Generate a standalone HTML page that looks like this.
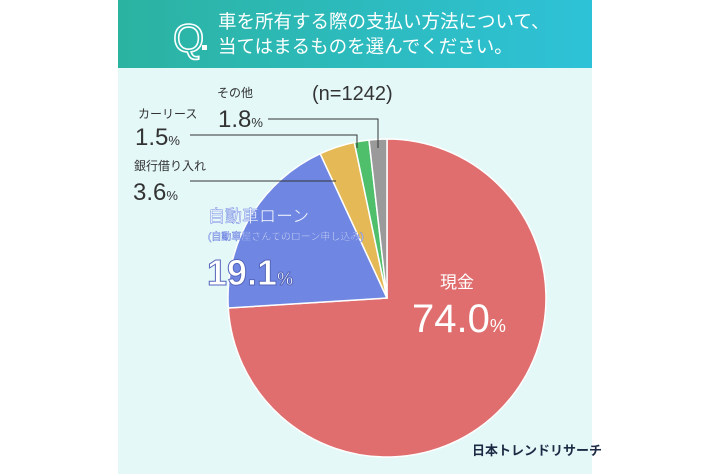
<!DOCTYPE html>
<html><head><meta charset="utf-8"><style>
body{margin:0;width:710px;height:474px;background:#fff;overflow:hidden;font-family:"Liberation Sans","Noto Sans CJK JP",sans-serif}
</style></head><body>
<svg width="710" height="474" viewBox="0 0 710 474" xmlns="http://www.w3.org/2000/svg" style="display:block">
<defs><linearGradient id="g" x1="0" x2="1"><stop offset="0" stop-color="#2bb3a1"/><stop offset="1" stop-color="#2ec2d8"/></linearGradient></defs>
<rect x="118" y="0" width="474" height="474" fill="#e4f8f8"/>
<rect x="118" y="0" width="474" height="68" fill="url(#g)"/>
<text x="173" y="52" font-size="40" fill="none" stroke="#fff" stroke-width="1.6" font-family="Liberation Sans,sans-serif">Q</text>
<rect x="202" y="45" width="5" height="5" fill="#fff"/>
<text x="218" y="28" font-size="18.5" fill="#fff" font-family="Liberation Sans,Noto Sans CJK JP,sans-serif">車を所有する際の支払い方法について、</text>
<text x="218" y="53" font-size="18.5" fill="#fff" font-family="Liberation Sans,Noto Sans CJK JP,sans-serif">当てはまるものを選んでください。</text>
<g stroke="#fff" stroke-width="1.5">
<path d="M387,298 L387,139 A159,159 0 1 1 228.3,308 Z" fill="#e06e6e"/>
<path d="M387,298 L228.3,308 A159,159 0 0 1 320.2,153.7 Z" fill="#6f87e2"/>
<path d="M387,298 L320.2,153.7 A159,159 0 0 1 354.3,142.4 Z" fill="#e5b955"/>
<path d="M387,298 L354.3,142.4 A159,159 0 0 1 369,140 Z" fill="#4fbf6b"/>
<path d="M387,298 L369,140 A159,159 0 0 1 387,139 Z" fill="#9a9a9a"/>
</g>
<g stroke="#333" stroke-width="1" fill="none">
<polyline points="268,119 378,119 378,148"/>
<polyline points="190,135 357,135 357,148"/>
<line x1="190" y1="181" x2="336" y2="181"/>
</g>
<g font-family="Liberation Sans,Noto Sans CJK JP,sans-serif" fill="#333">
<text x="217" y="97" font-size="12">その他</text>
<text x="312" y="100" font-size="20">(n=1242)</text>
<text x="138" y="118" font-size="12">カーリース</text>
<text x="218" y="127" font-size="24">1.8<tspan font-size="13">%</tspan></text>
<text x="135" y="145" font-size="24">1.5<tspan font-size="13">%</tspan></text>
<text x="134" y="170" font-size="12">銀行借り入れ</text>
<text x="133" y="200" font-size="24">3.6<tspan font-size="13">%</tspan></text>
</g>
<g font-family="Liberation Sans,Noto Sans CJK JP,sans-serif" fill="#fff" stroke="#6f87e2" stroke-width="0.5">
<text x="208" y="222" font-size="17">自動車ローン</text>
<text x="208" y="240" font-size="10">(自動車屋さんでのローン申し込み)</text>
<text x="207" y="285" font-size="36" font-weight="bold" stroke="#5566bb" stroke-width="1">19.1<tspan font-size="18">%</tspan></text>
</g>
<g font-family="Liberation Sans,Noto Sans CJK JP,sans-serif" fill="#fff">
<text x="440" y="288" font-size="17">現金</text>
<text x="412" y="332" font-size="40">74.0<tspan font-size="18">%</tspan></text>
</g>
<text x="472" y="455" font-size="13" font-weight="bold" fill="#1c2a44" font-family="Liberation Sans,Noto Sans CJK JP,sans-serif">日本トレンドリサーチ</text>
</svg>
</body></html>
